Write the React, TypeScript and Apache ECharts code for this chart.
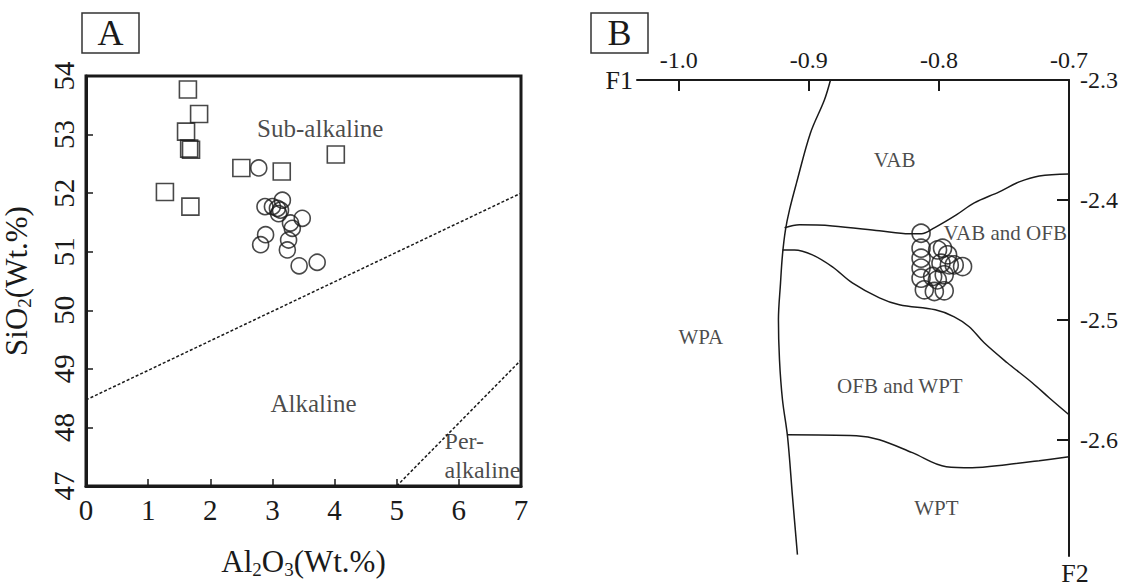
import React, { useEffect, useRef } from "react";
import * as echarts from "echarts";

// ---------- Panel A data (Al2O3 vs SiO2, Wt.%) ----------
const aSquareAl = [1.64, 1.82, 1.61, 1.66, 1.69, 4.02, 2.5, 3.15, 1.27, 1.68];
const aSquareSi = [53.77, 53.35, 53.05, 52.76, 52.74, 52.66, 52.43, 52.37, 52.02, 51.77];
const aCircleAl = [2.78, 3.16, 2.88, 3.0, 3.08, 3.13, 3.48, 3.29, 3.32, 2.89, 3.26, 2.81, 3.24, 3.43, 3.72, 3.1];
const aCircleSi = [52.43, 51.88, 51.77, 51.77, 51.74, 51.71, 51.57, 51.49, 51.4, 51.29, 51.2, 51.12, 51.03, 50.76, 50.82, 51.65];
const aLineSubAl = [0, 7];
const aLineSubSi = [48.47, 52.0];
const aLinePerAl = [5.0, 7];
const aLinePerSi = [47, 49.15];
const aLabels = ["Sub-alkaline", "Alkaline"];
const aLabelAl = [3.77, 3.66];
const aLabelSi = [53.1, 48.41];
const aPerLabels = ["Per-", "alkaline"];
const aPerAl = [5.77, 5.77];
const aPerSi = [47.76, 47.27];

// ---------- Panel B data (F1 vs F2) ----------
const bF1Ticks = [-1.0, -0.9, -0.8, -0.7];
const bF2Ticks = [-2.3, -2.4, -2.5, -2.6];
const bCircleF1 = [-0.8137, -0.8137, -0.8137, -0.8137, -0.8137, -0.8112, -0.8035, -0.7959, -0.801, -0.7972, -0.7933, -0.7984, -0.792, -0.7882, -0.7818, -0.7959, -0.8048, -0.8012];
const bCircleF2 = [-2.4278, -2.4403, -2.4486, -2.4569, -2.4653, -2.475, -2.4764, -2.4758, -2.4417, -2.4403, -2.4458, -2.4528, -2.4542, -2.4542, -2.4556, -2.4625, -2.4639, -2.4667];

const bWpaF1 = [-0.8833, -0.888, -0.8987, -0.9094, -0.9148, -0.9179, -0.9202, -0.9217, -0.9233, -0.9225, -0.9202, -0.9163, -0.9125, -0.9087];
const bWpaF2 = [-2.3, -2.3167, -2.3442, -2.3858, -2.4083, -2.425, -2.4458, -2.4692, -2.5, -2.5333, -2.5667, -2.5975, -2.6475, -2.6958];
const bVabF1 = [-0.9186, -0.9071, -0.8818, -0.8457, -0.8227, -0.8135, -0.8035, -0.7866, -0.7728, -0.7536, -0.7383, -0.7229, -0.7];
const bVabF2 = [-2.4233, -2.4208, -2.4217, -2.4258, -2.4283, -2.4283, -2.4233, -2.4125, -2.4025, -2.3933, -2.385, -2.38, -2.3783];
const bOfbF1 = [-0.9202, -0.911, -0.8972, -0.8818, -0.8665, -0.8457, -0.8304, -0.8028, -0.7882, -0.7767, -0.7652, -0.7475, -0.7283, -0.7153, -0.7];
const bOfbF2 = [-2.4417, -2.4417, -2.4458, -2.4558, -2.4692, -2.4817, -2.4875, -2.4917, -2.4975, -2.5058, -2.5192, -2.5358, -2.5525, -2.565, -2.5792];
const bWptF1 = [-0.9163, -0.8634, -0.8457, -0.8204, -0.7943, -0.7744, -0.7483, -0.7229, -0.7];
const bWptF2 = [-2.5958, -2.5967, -2.6, -2.6108, -2.6225, -2.6233, -2.6208, -2.6175, -2.6142];
const bLabels = ["VAB", "VAB and OFB", "WPA", "OFB and WPT", "WPT"];
const bLabelF1 = [-0.834, -0.749, -0.983, -0.83, -0.802];
const bLabelF2 = [-2.367, -2.4275, -2.514, -2.555, -2.657];

const FONT = "'Liberation Serif', 'Times New Roman', serif";
const INK = "#1a1a1a";

const zip = (xs: number[], ys: number[]) => xs.map((x, i) => [x, ys[i]]);

export default function App() {
  const ref = useRef<HTMLDivElement>(null);
  useEffect(() => {
    if (!ref.current) return;
    const chart = echarts.init(ref.current, null, { renderer: "svg" });
    const boundary = (xs: number[], ys: number[]) => ({
      type: "line",
      xAxisIndex: 1,
      yAxisIndex: 1,
      data: zip(xs, ys),
      smooth: 0.35,
      symbol: "none",
      lineStyle: { color: INK, width: 1.5 },
      z: 2,
    });
    const nameRich = {
      n: { fontSize: 31, fontFamily: FONT, color: INK },
      s: { fontSize: 19, fontFamily: FONT, color: INK, padding: [16, 0, 0, 0] },
    };
    const option: any = {
      animation: false,
      backgroundColor: "#fff",
      textStyle: { fontFamily: FONT, color: INK },
      grid: [
        { left: 82, top: 76, width: 439, height: 410, show: true, borderColor: INK, borderWidth: 3, backgroundColor: "transparent" },
        { left: 637, top: 80, width: 433, height: 476 },
      ],
      xAxis: [
        {
          gridIndex: 0,
          type: "value",
          min: 0,
          max: 7,
          interval: 1,
          splitLine: { show: false },
          axisLine: { show: true, lineStyle: { color: INK, width: 3 } },
          axisTick: { show: true, inside: true, length: 7, lineStyle: { color: INK, width: 1.5 } },
          axisLabel: { fontSize: 29, color: INK, fontFamily: FONT, margin: 9 },
          name: "{n|Al}{s|2}{n|O}{s|3}{n|(Wt.%)}",
          nameLocation: "middle",
          nameGap: 58,
          nameTextStyle: { fontFamily: FONT, color: INK, rich: nameRich },
        },
        {
          gridIndex: 1,
          type: "value",
          position: "top",
          min: -1.032,
          max: -0.7,
          splitLine: { show: false },
          axisLine: { show: true, lineStyle: { color: INK, width: 2 } },
          axisTick: { show: true, inside: true, length: 11, customValues: bF1Ticks, lineStyle: { color: INK, width: 2 } },
          axisLabel: {
            fontSize: 24,
            color: INK,
            fontFamily: FONT,
            margin: 8,
            customValues: bF1Ticks,
            formatter: (v: number) => v.toFixed(1),
          },
        },
      ],
      yAxis: [
        {
          gridIndex: 0,
          type: "value",
          min: 47,
          max: 54,
          interval: 1,
          splitLine: { show: false },
          axisLine: { show: true, lineStyle: { color: INK, width: 3 } },
          axisTick: { show: true, inside: true, length: 7, lineStyle: { color: INK, width: 1.5 } },
          axisLabel: { fontSize: 29, color: INK, fontFamily: FONT, rotate: 90, margin: 8 },
          name: "{n|SiO}{s|2}{n|(Wt.%)}",
          nameLocation: "middle",
          nameRotate: 90,
          nameGap: 52,
          nameTextStyle: { fontFamily: FONT, color: INK, rich: nameRich },
        },
        {
          gridIndex: 1,
          type: "value",
          position: "right",
          min: -2.697,
          max: -2.3,
          splitLine: { show: false },
          axisLine: { show: true, lineStyle: { color: INK, width: 2 } },
          axisTick: { show: true, inside: true, length: 12, customValues: bF2Ticks, lineStyle: { color: INK, width: 2 } },
          axisLabel: {
            fontSize: 24,
            color: INK,
            fontFamily: FONT,
            margin: 11,
            customValues: bF2Ticks,
            formatter: (v: number) => v.toFixed(1),
          },
        },
      ],
      series: [
        {
          type: "line",
          xAxisIndex: 0,
          yAxisIndex: 0,
          data: zip(aLineSubAl, aLineSubSi),
          symbol: "none",
          lineStyle: { color: INK, width: 1.5, type: [3, 2] },
        },
        {
          type: "line",
          xAxisIndex: 0,
          yAxisIndex: 0,
          data: zip(aLinePerAl, aLinePerSi),
          symbol: "none",
          lineStyle: { color: INK, width: 1.5, type: [3, 2] },
        },
        {
          type: "scatter",
          xAxisIndex: 0,
          yAxisIndex: 0,
          data: zip(aSquareAl, aSquareSi),
          symbol: "rect",
          symbolSize: 17,
          itemStyle: { color: "transparent", borderColor: INK, borderWidth: 1.6 },
        },
        {
          type: "scatter",
          xAxisIndex: 0,
          yAxisIndex: 0,
          data: zip(aCircleAl, aCircleSi),
          symbol: "circle",
          symbolSize: 16,
          itemStyle: { color: "transparent", borderColor: INK, borderWidth: 1.6 },
        },
        {
          type: "scatter",
          xAxisIndex: 0,
          yAxisIndex: 0,
          symbolSize: 0,
          data: aLabels.map((n, i) => ({ name: n, value: [aLabelAl[i], aLabelSi[i]] })),
          label: { show: true, position: "inside", formatter: "{b}", fontSize: 25, fontFamily: FONT, color: INK },
        },
        {
          type: "scatter",
          xAxisIndex: 0,
          yAxisIndex: 0,
          symbolSize: 0,
          data: aPerLabels.map((n, i) => ({ name: n, value: [aPerAl[i], aPerSi[i]] })),
          label: { show: true, position: "right", distance: 0, formatter: "{b}", fontSize: 24, fontFamily: FONT, color: INK },
        },
        boundary(bWpaF1, bWpaF2),
        boundary(bVabF1, bVabF2),
        boundary(bOfbF1, bOfbF2),
        boundary(bWptF1, bWptF2),
        {
          type: "scatter",
          xAxisIndex: 1,
          yAxisIndex: 1,
          data: zip(bCircleF1, bCircleF2),
          symbol: "circle",
          symbolSize: 18,
          itemStyle: { color: "transparent", borderColor: INK, borderWidth: 1.6 },
          z: 3,
        },
        {
          type: "scatter",
          xAxisIndex: 1,
          yAxisIndex: 1,
          symbolSize: 0,
          data: bLabels.map((n, i) => ({ name: n, value: [bLabelF1[i], bLabelF2[i]] })),
          label: { show: true, position: "inside", formatter: "{b}", fontSize: 21, fontFamily: FONT, color: INK },
        },
      ],
      graphic: [
        { type: "rect", shape: { x: 82, y: 13, width: 57, height: 40 }, style: { fill: "#fff", stroke: "#333", lineWidth: 1.5 } },
        { type: "text", x: 110.5, y: 33, style: { text: "A", font: "36px " + FONT, fill: INK, textAlign: "center", textVerticalAlign: "middle" } },
        { type: "rect", shape: { x: 591, y: 13, width: 57, height: 40 }, style: { fill: "#fff", stroke: "#333", lineWidth: 1.5 } },
        { type: "text", x: 619.5, y: 33, style: { text: "B", font: "36px " + FONT, fill: INK, textAlign: "center", textVerticalAlign: "middle" } },
        { type: "text", x: 633, y: 80, style: { text: "F1", font: "26px " + FONT, fill: INK, textAlign: "right", textVerticalAlign: "middle" } },
        { type: "text", x: 1075, y: 573, style: { text: "F2", font: "26px " + FONT, fill: INK, textAlign: "center", textVerticalAlign: "middle" } },
      ],
    };
    chart.setOption(option);
    return () => chart.dispose();
  }, []);
  return <div ref={ref} style={{ position: "fixed", left: 0, top: 0, width: 1121, height: 588 }} />;
}
